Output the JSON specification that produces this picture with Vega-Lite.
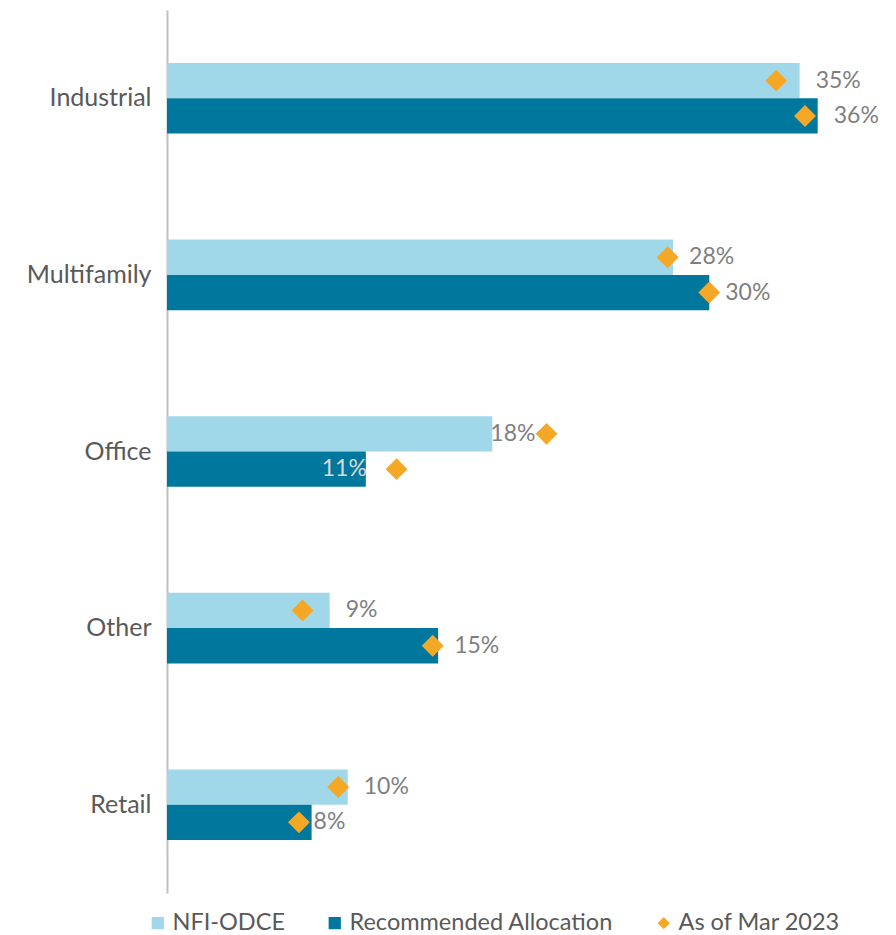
{
  "$schema": "https://vega.github.io/schema/vega-lite/v6.json",
  "width": 723,
  "height": 883,
  "padding": {"left": 26, "top": 10, "right": 5, "bottom": 5},
  "background": "white",
  "config": {"view": {"stroke": null}, "font": "Lato"},
  "data": {
    "values": [
      {"category": "Industrial", "series": "NFI-ODCE", "row": "NFI-ODCE", "value": 0.35},
      {"category": "Industrial", "series": "Recommended Allocation", "row": "Recommended Allocation", "value": 0.36},
      {"category": "Multifamily", "series": "NFI-ODCE", "row": "NFI-ODCE", "value": 0.28},
      {"category": "Multifamily", "series": "Recommended Allocation", "row": "Recommended Allocation", "value": 0.30},
      {"category": "Office", "series": "NFI-ODCE", "row": "NFI-ODCE", "value": 0.18},
      {"category": "Office", "series": "Recommended Allocation", "row": "Recommended Allocation", "value": 0.11},
      {"category": "Other", "series": "NFI-ODCE", "row": "NFI-ODCE", "value": 0.09},
      {"category": "Other", "series": "Recommended Allocation", "row": "Recommended Allocation", "value": 0.15},
      {"category": "Retail", "series": "NFI-ODCE", "row": "NFI-ODCE", "value": 0.10},
      {"category": "Retail", "series": "Recommended Allocation", "row": "Recommended Allocation", "value": 0.08},
      {"category": "Industrial", "series": "As of Mar 2023", "row": "NFI-ODCE", "value": 0.337},
      {"category": "Industrial", "series": "As of Mar 2023", "row": "Recommended Allocation", "value": 0.353},
      {"category": "Multifamily", "series": "As of Mar 2023", "row": "NFI-ODCE", "value": 0.277},
      {"category": "Multifamily", "series": "As of Mar 2023", "row": "Recommended Allocation", "value": 0.300},
      {"category": "Office", "series": "As of Mar 2023", "row": "NFI-ODCE", "value": 0.210},
      {"category": "Office", "series": "As of Mar 2023", "row": "Recommended Allocation", "value": 0.127},
      {"category": "Other", "series": "As of Mar 2023", "row": "NFI-ODCE", "value": 0.075},
      {"category": "Other", "series": "As of Mar 2023", "row": "Recommended Allocation", "value": 0.147},
      {"category": "Retail", "series": "As of Mar 2023", "row": "NFI-ODCE", "value": 0.0947},
      {"category": "Retail", "series": "As of Mar 2023", "row": "Recommended Allocation", "value": 0.073}
    ]
  },
  "encoding": {
    "y": {
      "field": "category",
      "type": "nominal",
      "sort": ["Industrial", "Multifamily", "Office", "Other", "Retail"],
      "scale": {"paddingInner": 0.6, "paddingOuter": 0.3},
      "axis": {
        "title": null,
        "ticks": false,
        "labelFontSize": 25,
        "labelColor": "#595959",
        "labelPadding": 16,
        "domainColor": "#bfbfbf",
        "domainWidth": 2
      }
    },
    "yOffset": {
      "field": "row",
      "type": "nominal",
      "sort": ["NFI-ODCE", "Recommended Allocation"],
      "scale": {"paddingInner": 0, "paddingOuter": 0}
    },
    "x": {
      "field": "value",
      "type": "quantitative",
      "scale": {"domain": [0, 0.4], "nice": false},
      "axis": null
    }
  },
  "layer": [
    {
      "transform": [{"filter": "datum.series !== 'As of Mar 2023'"}],
      "mark": {"type": "bar"},
      "encoding": {
        "color": {
          "field": "series",
          "type": "nominal",
          "scale": {
            "domain": ["NFI-ODCE", "Recommended Allocation", "As of Mar 2023"],
            "range": ["#a0d8ea", "#00789d", "#f5a825"]
          },
          "legend": {
            "title": null,
            "orient": "none",
            "legendX": -21,
            "legendY": 901,
            "direction": "horizontal",
            "labelFontSize": 23.5,
            "labelColor": "#595959",
            "labelLimit": 400,
            "symbolSize": 150,
            "symbolStrokeWidth": 0,
            "columnPadding": 38,
            "labelOffset": 3
          }
        }
      }
    },
    {
      "transform": [{"filter": "datum.series !== 'As of Mar 2023' && !(datum.category === 'Office') && !(datum.category === 'Retail' && datum.series === 'Recommended Allocation')"}],
      "mark": {"type": "text", "align": "left", "baseline": "middle", "dx": 16, "fontSize": 23, "color": "#7f7f7f"},
      "encoding": {"text": {"field": "value", "type": "quantitative", "format": ".0%"}}
    },
    {
      "transform": [{"filter": "datum.category === 'Office' && datum.series === 'NFI-ODCE'"}],
      "mark": {"type": "text", "align": "left", "baseline": "middle", "dx": -2, "fontSize": 23, "color": "#7f7f7f"},
      "encoding": {"text": {"field": "value", "type": "quantitative", "format": ".0%"}}
    },
    {
      "transform": [{"filter": "datum.category === 'Office' && datum.series === 'Recommended Allocation'"}],
      "mark": {"type": "text", "align": "right", "baseline": "middle", "dx": 1, "fontSize": 23, "color": "#d9d9d9"},
      "encoding": {"text": {"field": "value", "type": "quantitative", "format": ".0%"}}
    },
    {
      "transform": [{"filter": "datum.category === 'Retail' && datum.series === 'Recommended Allocation'"}],
      "mark": {"type": "text", "align": "left", "baseline": "middle", "dx": 2, "fontSize": 23, "color": "#7f7f7f"},
      "encoding": {"text": {"field": "value", "type": "quantitative", "format": ".0%"}}
    },
    {
      "transform": [{"filter": "datum.series === 'As of Mar 2023'"}],
      "mark": {"type": "point", "filled": true, "size": 480, "opacity": 1},
      "encoding": {
        "color": {"field": "series", "type": "nominal"},
        "shape": {
          "field": "series",
          "type": "nominal",
          "scale": {
            "domain": ["NFI-ODCE", "Recommended Allocation", "As of Mar 2023"],
            "range": ["square", "square", "diamond"]
          },
          "legend": {"title": null}
        }
      }
    }
  ]
}
